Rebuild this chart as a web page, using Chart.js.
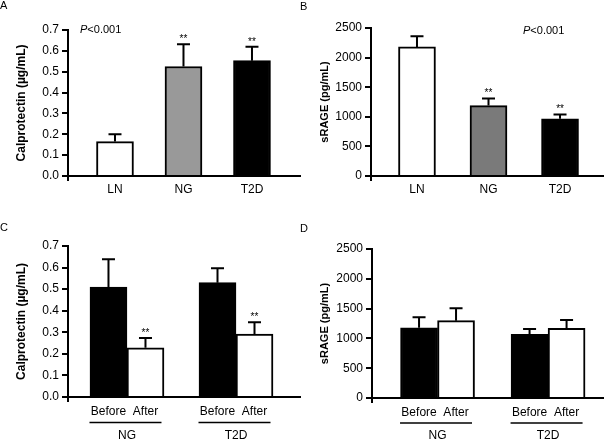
<!DOCTYPE html>
<html><head><meta charset="utf-8">
<script src="https://cdn.jsdelivr.net/npm/chart.js@4.4.0/dist/chart.umd.min.js"></script>
<style>
body{margin:0;background:#fff;width:609px;height:440px;overflow:hidden;position:relative;font-family:"Liberation Sans",Arial,sans-serif}
canvas{position:absolute}
.lbl{position:absolute;font-size:11px;line-height:11px;color:#000}
</style></head><body>
<canvas id="cA" width="304" height="220" style="left:0;top:0"></canvas>
<canvas id="cB" width="305" height="220" style="left:304px;top:0"></canvas>
<canvas id="cC" width="304" height="220" style="left:0;top:220px"></canvas>
<canvas id="cD" width="305" height="220" style="left:304px;top:220px"></canvas>
<div class="lbl" style="left:0;top:0">A</div>
<div class="lbl" style="left:300px;top:1px">B</div>
<div class="lbl" style="left:0;top:222px">C</div>
<div class="lbl" style="left:300px;top:223px">D</div>
<script>
// ---- data ----
const groupsAB = ['LN', 'NG', 'T2D'];
const calproMean = [0.165, 0.525, 0.553];
const calproSem = [0.035, 0.107, 0.067];
const calproSig = ['', '**', '**'];
const sragMean = [2180, 1190, 965];
const sragSem = [180, 120, 75];
const sragSig = ['', '**', '**'];

const groupsCD = ['NG', 'T2D'];
const phases = ['Before', 'After'];
const calproBefore = [0.509, 0.530];
const calproBeforeSem = [0.130, 0.067];
const calproAfter = [0.228, 0.292];
const calproAfterSem = [0.045, 0.054];
const calproAfterSig = ['**', '**'];
const sragBefore = [1179, 1068];
const sragBeforeSem = [175, 89];
const sragAfter = [1297, 1169];
const sragAfterSem = [209, 140];

const calproTicks = [0, 0.1, 0.2, 0.3, 0.4, 0.5, 0.6, 0.7];
const calproTickLabels = ['0.0', '0.1', '0.2', '0.3', '0.4', '0.5', '0.6', '0.7'];
const sragTicks = [0, 500, 1000, 1500, 2000, 2500];
const sragTickLabels = ['0', '500', '1000', '1500', '2000', '2500'];
const pText = 'P<0.001';

// ---- styling / plugins ----
const FONT = '"Liberation Sans", Arial, sans-serif';
Chart.defaults.font.family = FONT;
Chart.defaults.color = '#000';

const errPlugin = {
  id: 'err',
  afterDatasetsDraw(chart) {
    const ctx = chart.ctx, y = chart.scales.y;
    chart.data.datasets.forEach((ds, di) => {
      const meta = chart.getDatasetMeta(di);
      meta.data.forEach((el, i) => {
        const top = y.getPixelForValue(ds.data[i].y + ds.errors[i]);
        ctx.save();
        ctx.strokeStyle = '#000'; ctx.lineWidth = 2;
        ctx.beginPath();
        ctx.moveTo(el.x, el.y); ctx.lineTo(el.x, top);
        ctx.moveTo(el.x - 6.5, top); ctx.lineTo(el.x + 6.5, top);
        ctx.stroke();
        if (ds.sig && ds.sig[i]) {
          ctx.fillStyle = '#000';
          ctx.font = '10px ' + FONT;
          ctx.textAlign = 'center'; ctx.textBaseline = 'alphabetic';
          ctx.fillText(ds.sig[i], el.x, top - 2);
        }
        ctx.restore();
      });
    });
  },
  afterDraw(chart) {
    const ctx = chart.ctx, a = chart.chartArea;
    const o = chart.options.plugins.extra || {};
    ctx.save();
    ctx.strokeStyle = '#000'; ctx.lineWidth = 2;
    ctx.beginPath(); ctx.moveTo(a.left, a.bottom); ctx.lineTo(a.left, a.bottom + 5); ctx.stroke();
    if (o.p) {
      ctx.font = 'italic 11px ' + FONT; ctx.textBaseline = 'middle'; ctx.textAlign = 'left'; ctx.fillStyle = '#000';
      ctx.fillText(pText[0], o.p[0], o.p[1]);
      const w = ctx.measureText(pText[0]).width;
      ctx.font = '11px ' + FONT;
      ctx.fillText(pText.slice(1), o.p[0] + w, o.p[1]);
    }
    if (o.groups) {
      const m0 = chart.getDatasetMeta(0), m1 = chart.getDatasetMeta(1);
      ctx.font = '12px ' + FONT; ctx.textAlign = 'center'; ctx.textBaseline = 'middle'; ctx.fillStyle = '#000';
      o.groups.forEach((g, i) => {
        const b = m0.data[i], f = m1.data[i];
        ctx.fillText(phases[0], b.x, a.bottom + o.off[0]);
        ctx.fillText(phases[1], f.x, a.bottom + o.off[0]);
        ctx.lineWidth = 1.5;
        ctx.beginPath(); ctx.moveTo(b.x - 19, a.bottom + o.off[1]); ctx.lineTo(f.x + 16, a.bottom + o.off[1]); ctx.stroke();
        ctx.fillText(g, chart.scales.x.getPixelForValue(i), a.bottom + o.off[2]);
      });
    }
    ctx.restore();
  }
};

function yScale(ticks, labels, max, titleText, titleSize, width) {
  return {
    min: 0, max: max,
    afterBuildTicks: s => { s.ticks = ticks.map(v => ({ value: v })); },
    afterFit: s => { s.width = width; },
    ticks: { callback: (v, i) => labels[i], font: { size: 12 }, padding: 3, color: '#000' },
    grid: { display: true, drawOnChartArea: false, drawTicks: true, tickLength: 6, lineWidth: 2, color: '#000' },
    border: { display: true, color: '#000', width: 2 },
    title: { display: true, text: titleText, font: { size: titleSize, weight: 'bold' }, color: '#000', padding: { top: 4, bottom: 4 } }
  };
}

function xScale(min, max, cats, showTicks, height) {
  return {
    type: 'linear', min: min, max: max, offset: false, bounds: 'data',
    afterBuildTicks: s => { s.ticks = cats.map((_, i) => ({ value: i })); },
    afterFit: s => { s.height = height; },
    ticks: { display: showTicks, callback: v => cats[v], font: { size: 12 }, padding: 6, maxRotation: 0, autoSkip: false, color: '#000' },
    grid: { display: false, drawTicks: false, offset: false },
    border: { display: true, color: '#000', width: 2 }
  };
}

function makeChart(id, datasets, xs, ys, padding, extra) {
  return new Chart(document.getElementById(id), {
    type: 'bar',
    data: { datasets: datasets },
    options: {
      responsive: false, animation: false, devicePixelRatio: 1,
      layout: { padding: padding },
      scales: { x: xs, y: ys },
      plugins: { legend: { display: false }, tooltip: { enabled: false }, extra: extra }
    },
    plugins: [errPlugin]
  });
}

const toXY = arr => arr.map((v, i) => ({ x: i, y: v }));

// Panel A
makeChart('cA', [{
  data: toXY(calproMean), errors: calproSem, sig: calproSig,
  backgroundColor: ['#ffffff', '#999999', '#000000'], borderColor: '#000', borderWidth: 2, barThickness: 37
}], xScale(-0.686, 2.701, groupsAB, true, 44), yScale(calproTicks, calproTickLabels, 0.7, 'Calprotectin (\u00b5g/mL)', 12, 58),
  { left: 10, right: 4, top: 30, bottom: 0 }, { p: [80, 30] });

// Panel B
makeChart('cB', [{
  data: toXY(sragMean), errors: sragSem, sig: sragSig,
  backgroundColor: ['#ffffff', '#7a7a7a', '#000000'], borderColor: '#000', borderWidth: 2, barThickness: 37
}], xScale(-0.643, 2.601, groupsAB, true, 44), yScale(sragTicks, sragTickLabels, 2500, 'sRAGE (pg/mL)', 11, 57),
  { left: 10, right: 6, top: 28, bottom: 0 }, { p: [219, 31] });

// Panel C
makeChart('cC', [
  { data: toXY(calproBefore), errors: calproBeforeSem, backgroundColor: '#000', borderColor: '#000', borderWidth: 2, barThickness: 37 },
  { data: toXY(calproAfter), errors: calproAfterSem, sig: calproAfterSig, backgroundColor: '#fff', borderColor: '#000', borderWidth: 2, barThickness: 37 }
], xScale(-0.541, 1.587, groupsCD, false, 43), yScale(calproTicks, calproTickLabels, 0.7, 'Calprotectin (\u00b5g/mL)', 12, 58),
  { left: 10, right: 4, top: 26, bottom: 0 }, { groups: groupsCD, off: [15, 25.5, 38.5] });

// Panel D
makeChart('cD', [
  { data: toXY(sragBefore), errors: sragBeforeSem, backgroundColor: '#000', borderColor: '#000', borderWidth: 2, barThickness: 37 },
  { data: toXY(sragAfter), errors: sragAfterSem, backgroundColor: '#fff', borderColor: '#000', borderWidth: 2, barThickness: 37 }
], xScale(-0.593, 1.497, groupsCD, false, 42), yScale(sragTicks, sragTickLabels, 2500, 'sRAGE (pg/mL)', 11, 58),
  { left: 10, right: 6, top: 29, bottom: 0 }, { groups: groupsCD, off: [14.5, 25, 38] });
</script>
</body></html>
